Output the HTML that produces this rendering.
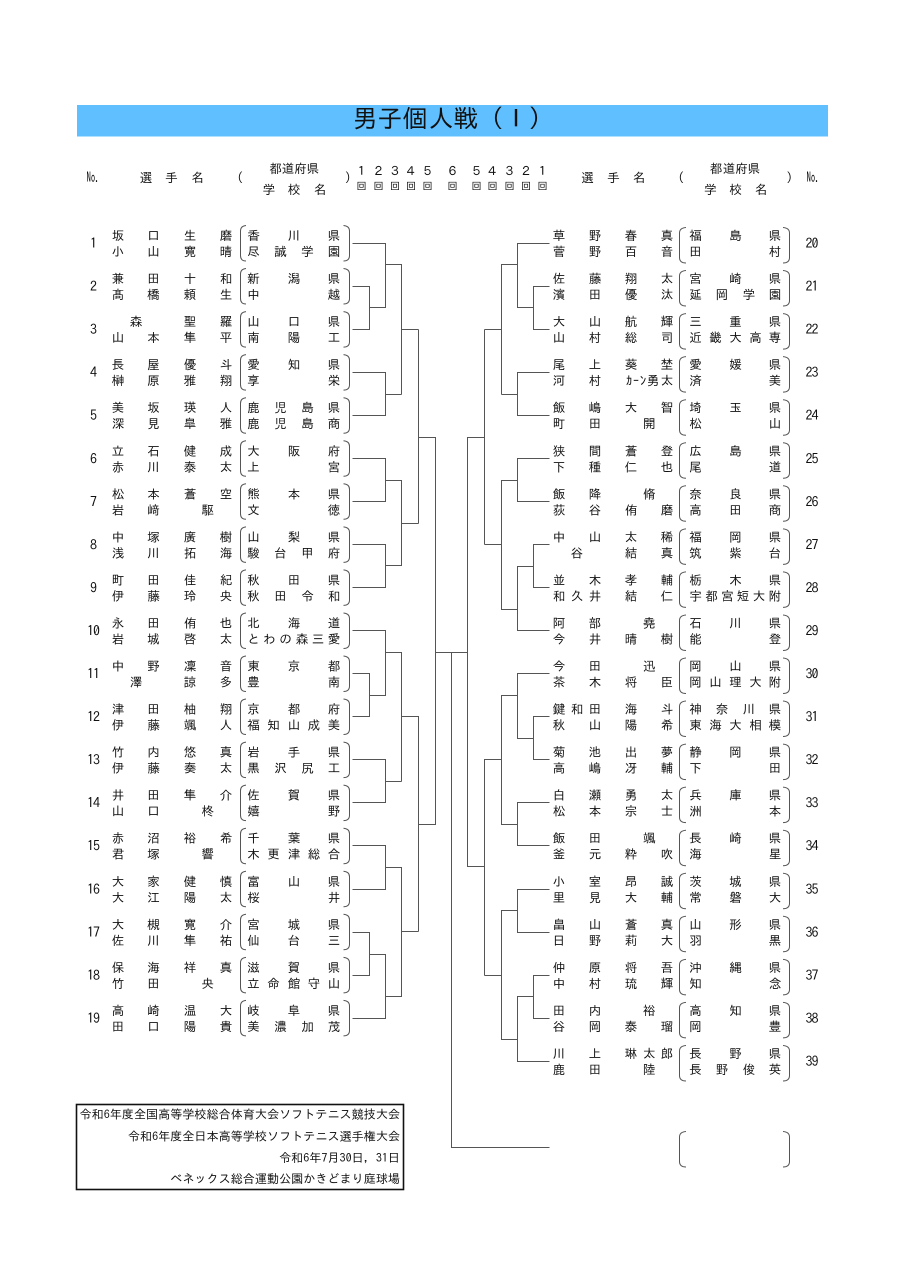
<!DOCTYPE html>
<html lang="ja">
<head>
<meta charset="utf-8">
<title>男子個人戦（Ⅰ）</title>
<style>
html,body{margin:0;padding:0;background:#fff}
svg{display:block}
text{font-family:"IPAGothic","Liberation Sans","Noto Sans CJK JP",sans-serif;font-size:12.5px;fill:#111;text-anchor:middle}
.n{font-size:14px;letter-spacing:-1px}
.f{text-anchor:end;font-size:12.1px}
.no{font-size:14px}
</style>
</head>
<body>
<svg width="905" height="1280" viewBox="0 0 905 1280" xmlns="http://www.w3.org/2000/svg">
<defs>
<path id="bl" d="M246 225.5Q240.5 226 240.5 231V255.5Q240.5 261 246 261M343.5 225.5Q349.5 226 349.5 231V255.5Q349.5 261 343.5 261" fill="none" stroke="#555" stroke-width="1"/>
<path id="br" d="M686 227.5Q679.5 228 679.5 233V257.5Q679.5 263 686 263M783 227.5Q789.5 228 789.5 233V257.5Q789.5 263 783 263" fill="none" stroke="#555" stroke-width="1"/>
</defs>
<rect width="905" height="1280" fill="#fff"/>
<rect x="77" y="105" width="751" height="31.5" fill="#60c0ff"/>
<text style="font-size:25px" x="365 390 415 441 466 491 516 541" y="127.5">男子個人戦（Ⅰ）</text>

<!-- header left -->
<text class="no" x="93" y="182" textLength="13" lengthAdjust="spacingAndGlyphs">No.</text>
<text x="146 171.5 197.5" y="182">選手名</text>
<text x="240" y="182">(</text>
<text x="348" y="182">)</text>
<text x="275.5 288 300.5 313" y="173">都道府県</text>
<text x="269 294 320" y="194">学校名</text>
<text x="361.5 378.5 395 411 427.5 452.5" y="175.5">１２３４５６</text>
<text style="font-size:10px" x="361.5 378.5 395 411 427.5 452.5" y="189.5">回回回回回回</text>
<!-- header right -->
<text x="476.5 492.5 509.5 526 542.5" y="175.5">５４３２１</text>
<text style="font-size:10px" x="476.5 492.5 509.5 526 542.5" y="189.5">回回回回回</text>
<text x="587.5 613.5 639" y="182">選手名</text>
<text x="681" y="182">(</text>
<text x="789.5" y="182">)</text>
<text x="716 729 741.5 754" y="173">都道府県</text>
<text x="710.5 735.5 761" y="194">学校名</text>
<text class="no" x="813" y="182" textLength="13" lengthAdjust="spacingAndGlyphs">No.</text>

<!-- left rows -->
<g transform="translate(0,0)"><use href="#bl"/><text class="n" x="93" y="248">1</text><text x="118 153.5 190 226" y="240">坂口生磨</text><text x="118 153.5 190 226" y="256">小山寛晴</text><text x="253.5 294 334" y="240">香川県</text><text x="253.5 280.5 307.5 334" y="256">尽誠学園</text></g>
<g transform="translate(0,43.05)"><use href="#bl"/><text class="n" x="93" y="248">2</text><text x="118 153.5 190 226" y="240">兼田十和</text><text x="118 153.5 190 226" y="256">髙橋頼生</text><text x="253.5 294 334" y="240">新潟県</text><text x="253.5 334" y="256">中越</text></g>
<g transform="translate(0,86.1)"><use href="#bl"/><text class="n" x="93" y="248">3</text><text x="136 190 226" y="240">森聖羅</text><text x="118 153.5 190 226" y="256">山本隼平</text><text x="253.5 294 334" y="240">山口県</text><text x="253.5 294 334" y="256">南陽工</text></g>
<g transform="translate(0,129.15)"><use href="#bl"/><text class="n" x="93" y="248">4</text><text x="118 153.5 190 226" y="240">長屋優斗</text><text x="118 153.5 190 226" y="256">榊原雅翔</text><text x="253.5 294 334" y="240">愛知県</text><text x="253.5 334" y="256">享栄</text></g>
<g transform="translate(0,172.2)"><use href="#bl"/><text class="n" x="93" y="248">5</text><text x="118 153.5 190 226" y="240">美坂瑛人</text><text x="118 153.5 190 226" y="256">深見皐雅</text><text x="253.5 280.5 307.5 334" y="240">鹿児島県</text><text x="253.5 280.5 307.5 334" y="256">鹿児島商</text></g>
<g transform="translate(0,215.25)"><use href="#bl"/><text class="n" x="93" y="248">6</text><text x="118 153.5 190 226" y="240">立石健成</text><text x="118 153.5 190 226" y="256">赤川泰太</text><text x="253.5 294 334" y="240">大阪府</text><text x="253.5 334" y="256">上宮</text></g>
<g transform="translate(0,258.3)"><use href="#bl"/><text class="n" x="93" y="248">7</text><text x="118 153.5 190 226" y="240">松本蒼空</text><text x="118 153.5 207.7" y="256">岩﨑駆</text><text x="253.5 294 334" y="240">熊本県</text><text x="253.5 334" y="256">文徳</text></g>
<g transform="translate(0,301.35)"><use href="#bl"/><text class="n" x="93" y="248">8</text><text x="118 153.5 190 226" y="240">中塚廣樹</text><text x="118 153.5 190 226" y="256">浅川拓海</text><text x="253.5 294 334" y="240">山梨県</text><text x="253.5 280.5 307.5 334" y="256">駿台甲府</text></g>
<g transform="translate(0,344.4)"><use href="#bl"/><text class="n" x="93" y="248">9</text><text x="118 153.5 190 226" y="240">町田佳紀</text><text x="118 153.5 190 226" y="256">伊藤玲央</text><text x="253.5 294 334" y="240">秋田県</text><text x="253.5 280.5 307.5 334" y="256">秋田令和</text></g>
<g transform="translate(0,387.45)"><use href="#bl"/><text class="n" x="93" y="248">10</text><text x="118 153.5 190 226" y="240">永田侑也</text><text x="118 153.5 190 226" y="256">岩城啓太</text><text x="253.5 294 334" y="240">北海道</text><text x="253.5 269.5 285.5 302 318 334" y="256">とわの森三愛</text></g>
<g transform="translate(0,430.5)"><use href="#bl"/><text class="n" x="93" y="248">11</text><text x="118 153.5 190 226" y="240">中野凜音</text><text x="136 190 226" y="256">澤諒多</text><text x="253.5 294 334" y="240">東京都</text><text x="253.5 334" y="256">豊南</text></g>
<g transform="translate(0,473.55)"><use href="#bl"/><text class="n" x="93" y="248">12</text><text x="118 153.5 190 226" y="240">津田柚翔</text><text x="118 153.5 190 226" y="256">伊藤颯人</text><text x="253.5 294 334" y="240">京都府</text><text x="253.5 273.5 294 314 334" y="256">福知山成美</text></g>
<g transform="translate(0,516.6)"><use href="#bl"/><text class="n" x="93" y="248">13</text><text x="118 153.5 190 226" y="240">竹内悠真</text><text x="118 153.5 190 226" y="256">伊藤奏太</text><text x="253.5 294 334" y="240">岩手県</text><text x="253.5 280.5 307.5 334" y="256">黒沢尻工</text></g>
<g transform="translate(0,559.65)"><use href="#bl"/><text class="n" x="93" y="248">14</text><text x="118 153.5 190 226" y="240">井田隼介</text><text x="118 153.5 207.7" y="256">山口柊</text><text x="253.5 294 334" y="240">佐賀県</text><text x="253.5 334" y="256">嬉野</text></g>
<g transform="translate(0,602.7)"><use href="#bl"/><text class="n" x="93" y="248">15</text><text x="118 153.5 190 226" y="240">赤沼裕希</text><text x="118 153.5 207.7" y="256">君塚響</text><text x="253.5 294 334" y="240">千葉県</text><text x="253.5 273.5 294 314 334" y="256">木更津総合</text></g>
<g transform="translate(0,645.75)"><use href="#bl"/><text class="n" x="93" y="248">16</text><text x="118 153.5 190 226" y="240">大家健慎</text><text x="118 153.5 190 226" y="256">大江陽太</text><text x="253.5 294 334" y="240">富山県</text><text x="253.5 334" y="256">桜井</text></g>
<g transform="translate(0,688.8)"><use href="#bl"/><text class="n" x="93" y="248">17</text><text x="118 153.5 190 226" y="240">大槻寛介</text><text x="118 153.5 190 226" y="256">佐川隼祐</text><text x="253.5 294 334" y="240">宮城県</text><text x="253.5 294 334" y="256">仙台三</text></g>
<g transform="translate(0,731.85)"><use href="#bl"/><text class="n" x="93" y="248">18</text><text x="118 153.5 190 226" y="240">保海祥真</text><text x="118 153.5 207.7" y="256">竹田央</text><text x="253.5 294 334" y="240">滋賀県</text><text x="253.5 273.5 294 314 334" y="256">立命館守山</text></g>
<g transform="translate(0,774.9)"><use href="#bl"/><text class="n" x="93" y="248">19</text><text x="118 153.5 190 226" y="240">高崎温大</text><text x="118 153.5 190 226" y="256">田口陽貴</text><text x="253.5 294 334" y="240">岐阜県</text><text x="253.5 280.5 307.5 334" y="256">美濃加茂</text></g>

<!-- right rows -->
<g transform="translate(0,0)"><use href="#br"/><text class="n" x="811.5" y="248">20</text><text x="559 595 631 667" y="240">草野春真</text><text x="559 595 631 667" y="256">菅野百音</text><text x="695.5 735.5 775" y="240">福島県</text><text x="695.5 775" y="256">田村</text></g>
<g transform="translate(0,43.05)"><use href="#br"/><text class="n" x="811.5" y="248">21</text><text x="559 595 631 667" y="240">佐藤翔太</text><text x="559 595 631 667" y="256">濱田優汰</text><text x="695.5 735.5 775" y="240">宮崎県</text><text x="695.5 722 749 775" y="256">延岡学園</text></g>
<g transform="translate(0,86.1)"><use href="#br"/><text class="n" x="811.5" y="248">22</text><text x="559 595 631 667" y="240">大山航輝</text><text x="559 595 631 667" y="256">山村総司</text><text x="695.5 735.5 775" y="240">三重県</text><text x="695.5 715.5 735.5 755.5 775" y="256">近畿大高専</text></g>
<g transform="translate(0,129.15)"><use href="#br"/><text class="n" x="811.5" y="248">23</text><text x="559 595 631 667" y="240">尾上葵埜</text><text x="559 595 629 636 643 653 667" y="256">河村ｶｰﾝ勇太</text><text x="695.5 735.5 775" y="240">愛媛県</text><text x="695.5 775" y="256">済美</text></g>
<g transform="translate(0,172.2)"><use href="#br"/><text class="n" x="811.5" y="248">24</text><text x="559 595 631 667" y="240">飯嶋大智</text><text x="559 595 649.3" y="256">町田開</text><text x="695.5 735.5 775" y="240">埼玉県</text><text x="695.5 775" y="256">松山</text></g>
<g transform="translate(0,215.25)"><use href="#br"/><text class="n" x="811.5" y="248">25</text><text x="559 595 631 667" y="240">狭間蒼登</text><text x="559 595 631 667" y="256">下種仁也</text><text x="695.5 735.5 775" y="240">広島県</text><text x="695.5 775" y="256">尾道</text></g>
<g transform="translate(0,258.3)"><use href="#br"/><text class="n" x="811.5" y="248">26</text><text x="559 595 649.3" y="240">飯降脩</text><text x="559 595 631 667" y="256">荻谷侑磨</text><text x="695.5 735.5 775" y="240">奈良県</text><text x="695.5 735.5 775" y="256">高田商</text></g>
<g transform="translate(0,301.35)"><use href="#br"/><text class="n" x="811.5" y="248">27</text><text x="559 595 631 667" y="240">中山太稀</text><text x="577 631 667" y="256">谷結真</text><text x="695.5 735.5 775" y="240">福岡県</text><text x="695.5 735.5 775" y="256">筑紫台</text></g>
<g transform="translate(0,344.4)"><use href="#br"/><text class="n" x="811.5" y="248">28</text><text x="559 595 631 667" y="240">並木孝輔</text><text x="559 577 595 631 667" y="256">和久井結仁</text><text x="695.5 735.5 775" y="240">栃木県</text><text x="695.5 711.5 727.5 743 759 775" y="256">宇都宮短大附</text></g>
<g transform="translate(0,387.45)"><use href="#br"/><text class="n" x="811.5" y="248">29</text><text x="559 595 649.3" y="240">阿部堯</text><text x="559 595 631 667" y="256">今井晴樹</text><text x="695.5 735.5 775" y="240">石川県</text><text x="695.5 775" y="256">能登</text></g>
<g transform="translate(0,430.5)"><use href="#br"/><text class="n" x="811.5" y="248">30</text><text x="559 595 649.3" y="240">今田迅</text><text x="559 595 631 667" y="256">茶木将臣</text><text x="695.5 735.5 775" y="240">岡山県</text><text x="695.5 715.5 735.5 755.5 775" y="256">岡山理大附</text></g>
<g transform="translate(0,473.55)"><use href="#br"/><text class="n" x="811.5" y="248">31</text><text x="559 577 595 631 667" y="240">鍵和田海斗</text><text x="559 595 631 667" y="256">秋山陽希</text><text x="695.5 722 749 775" y="240">神奈川県</text><text x="695.5 715.5 735.5 755.5 775" y="256">東海大相模</text></g>
<g transform="translate(0,516.6)"><use href="#br"/><text class="n" x="811.5" y="248">32</text><text x="559 595 631 667" y="240">菊池出夢</text><text x="559 595 631 667" y="256">高嶋冴輔</text><text x="695.5 735.5 775" y="240">静岡県</text><text x="695.5 775" y="256">下田</text></g>
<g transform="translate(0,559.65)"><use href="#br"/><text class="n" x="811.5" y="248">33</text><text x="559 595 631 667" y="240">白瀬勇太</text><text x="559 595 631 667" y="256">松本宗士</text><text x="695.5 735.5 775" y="240">兵庫県</text><text x="695.5 775" y="256">洲本</text></g>
<g transform="translate(0,602.7)"><use href="#br"/><text class="n" x="811.5" y="248">34</text><text x="559 595 649.3" y="240">飯田颯</text><text x="559 595 631 667" y="256">釜元粋吹</text><text x="695.5 735.5 775" y="240">長崎県</text><text x="695.5 775" y="256">海星</text></g>
<g transform="translate(0,645.75)"><use href="#br"/><text class="n" x="811.5" y="248">35</text><text x="559 595 631 667" y="240">小室昂誠</text><text x="559 595 631 667" y="256">里見大輔</text><text x="695.5 735.5 775" y="240">茨城県</text><text x="695.5 735.5 775" y="256">常磐大</text></g>
<g transform="translate(0,688.8)"><use href="#br"/><text class="n" x="811.5" y="248">36</text><text x="559 595 631 667" y="240">畠山蒼真</text><text x="559 595 631 667" y="256">日野莉大</text><text x="695.5 735.5 775" y="240">山形県</text><text x="695.5 775" y="256">羽黒</text></g>
<g transform="translate(0,731.85)"><use href="#br"/><text class="n" x="811.5" y="248">37</text><text x="559 595 631 667" y="240">仲原将吾</text><text x="559 595 631 667" y="256">中村琉輝</text><text x="695.5 735.5 775" y="240">沖縄県</text><text x="695.5 775" y="256">知念</text></g>
<g transform="translate(0,774.9)"><use href="#br"/><text class="n" x="811.5" y="248">38</text><text x="559 595 649.3" y="240">田内裕</text><text x="559 595 631 667" y="256">谷岡泰瑠</text><text x="695.5 735.5 775" y="240">高知県</text><text x="695.5 775" y="256">岡豊</text></g>
<g transform="translate(0,817.95)"><use href="#br"/><text class="n" x="811.5" y="248">39</text><text x="559 595 631 649.3 667" y="240">川上琳太郎</text><text x="559 595 649.3" y="256">鹿田陸</text><text x="695.5 735.5 775" y="240">長野県</text><text x="695.5 722 749 775" y="256">長野俊英</text></g>
<g transform="translate(0,904)"><use href="#br"/></g>

<!-- left connectors -->
<path fill="none" stroke="#555" stroke-width="1" d="
M352.5 243.5H385.5V307.5H369.5M352.5 286.5H369.5V329.5H352.5M385.5 264.5H401.5V394.5M401.5 329.5H418.5
M352.5 372.5H385.5V415.5H352.5M385.5 394.5H401.5
M352.5 458.5H385.5V501.5H352.5M385.5 480.5H401.5V565.5H385.5M352.5 544.5H385.5V587.5H352.5M401.5 523.5H418.5
M418.5 329.5V523.5M418.5 437.5H435.5V824.5H418.5
M435.5 652.5H467.5M451.5 652.5V1147.5H549.5
M352.5 630.5H385.5V695.5H369.5M352.5 673.5H369.5V716.5H352.5M385.5 652.5H401.5V781.5M401.5 716.5H418.5V931.5
M352.5 759.5H385.5V802.5H352.5M385.5 781.5H401.5
M352.5 845.5H385.5V889.5H352.5M385.5 867.5H401.5V996.5H385.5
M352.5 932.5H369.5V975.5H352.5M369.5 954.5H385.5V1018.5H352.5M401.5 931.5H418.5"/>
<!-- right connectors -->
<path fill="none" stroke="#555" stroke-width="1" d="
M549.5 243.5H517.5V307.5H533.5M549.5 286.5H533.5V329.5H549.5M517.5 264.5H501.5V394.5M501.5 329.5H484.5
M549.5 372.5H517.5V415.5H549.5M517.5 394.5H501.5
M484.5 329.5V544.5M484.5 437.5H467.5V866.5H484.5
M549.5 458.5H517.5V501.5H549.5M517.5 480.5H501.5V609.5H517.5M501.5 544.5H484.5
M549.5 544.5H533.5V587.5H549.5M533.5 566.5H517.5V630.5H549.5
M549.5 673.5H517.5V738.5H533.5M549.5 716.5H533.5V759.5H549.5M517.5 695.5H501.5V824.5H517.5M501.5 759.5H484.5V975.5
M549.5 802.5H517.5V845.5H549.5
M549.5 889.5H517.5V932.5H549.5M517.5 910.5H501.5V1039.5H517.5M501.5 975.5H484.5
M549.5 975.5H533.5V1018.5H549.5M533.5 996.5H517.5V1061.5H549.5"/>

<!-- footer box -->
<rect x="76.5" y="1104.5" width="327" height="85" fill="none" stroke="#111" stroke-width="1.6"/>
<text class="f" x="400" y="1118.5">令和6年度全国高等学校総合体育大会ソフトテニス競技大会</text>
<text class="f" x="400" y="1140.5">令和6年度全日本高等学校ソフトテニス選手権大会</text>
<text class="f" x="400" y="1162">令和6年7月30日，31日</text>
<text class="f" x="400" y="1183">ベネックス総合運動公園かきどまり庭球場</text>
</svg>
</body>
</html>
